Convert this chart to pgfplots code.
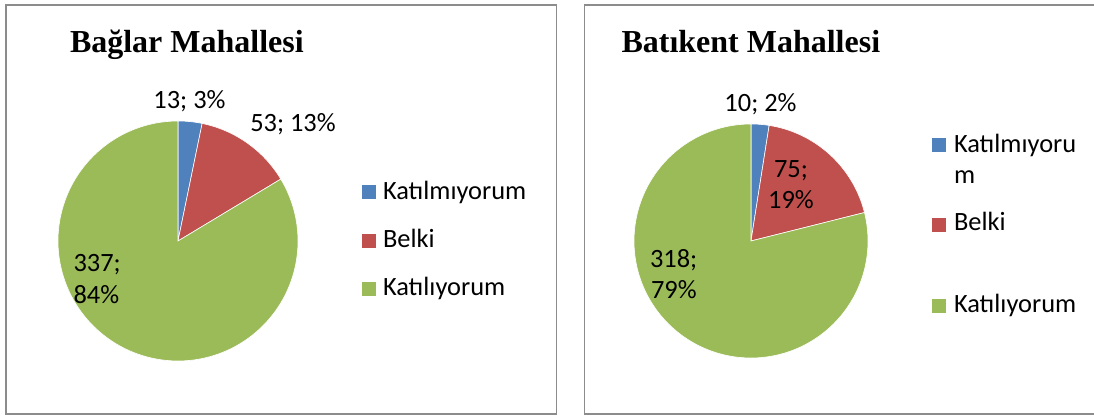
\documentclass[border=0pt]{standalone}
\usepackage{pgfplots}
\usepackage{pgfplotstable}
\pgfplotsset{compat=1.18}
\usepackage{fontspec}
\setmainfont{Carlito}
\newfontfamily\titlefont{Liberation Serif}
\definecolor{cblue}{HTML}{4F81BD}
\definecolor{cred}{HTML}{C0504D}
\definecolor{cgreen}{HTML}{9BBB59}
\definecolor{cborder}{HTML}{8C8C8C}

\pgfplotstableread{
cat count
Katilmiyorum 13
Belki 53
Katiliyorum 337
}\baglar
\pgfplotstableread{
cat count
Katilmiyorum 10
Belki 75
Katiliyorum 318
}\batikent

% compute slice boundary angles (start at 90 deg, clockwise)
\newcommand\pieangles[1]{%
  \pgfplotstablegetelem{0}{count}\of#1\let\va\pgfplotsretval
  \pgfplotstablegetelem{1}{count}\of#1\let\vb\pgfplotsretval
  \pgfplotstablegetelem{2}{count}\of#1\let\vc\pgfplotsretval
  \pgfmathsetmacro\tot{\va+\vb+\vc}%
  \pgfmathsetmacro\angA{90-(\va/\tot)*360}%
  \pgfmathsetmacro\angB{\angA-(\vb/\tot)*360}%
  \pgfmathsetmacro\angC{\angB-(\vc/\tot)*360}%
}

\newcommand\pieslices{%
  \addplot[fill=cblue, draw=white, line width=0.3pt, domain=\angA:90, samples=20, variable=\t]
    ({cos(\t)},{sin(\t)}) -- (0,0) -- cycle;
  \addplot[fill=cred, draw=white, line width=0.3pt, domain=\angB:\angA, samples=40, variable=\t]
    ({cos(\t)},{sin(\t)}) -- (0,0) -- cycle;
  \addplot[fill=cgreen, draw=white, line width=0.3pt, domain=\angC:\angB, samples=150, variable=\t]
    ({cos(\t)},{sin(\t)}) -- (0,0) -- cycle;
}

\pgfplotsset{pieaxis/.style={anchor=center, scale only axis, hide axis, clip=false,
  xmin=-1, xmax=1, ymin=-1, ymax=1}}

\begin{document}
\begin{tikzpicture}[x=0.5pt, y=0.5pt, every node/.style={inner sep=0pt, outer sep=0pt}]
\useasboundingbox (0,0) rectangle (1094,416);
% chart borders
\draw[cborder, line width=0.75pt] (6,416-5) rectangle (556.5,416-414);
\draw[cborder, line width=0.75pt] (1100,416-5) -- (584.5,416-5) -- (584.5,416-414) -- (1100,416-414);

% ---- left pie
\pieangles{\baglar}
\begin{axis}[pieaxis, at={(89pt,87.5pt)}, width=120pt, height=120pt]
\pieslices
\end{axis}
\node[anchor=base west, font=\titlefont\bfseries\fontsize{16}{19}\selectfont] at (70,416-53) {Bağlar Mahallesi};
\begin{scope}[every node/.append style={font=\fontsize{13.2}{15}\selectfont}]
\node[anchor=base] at (189.5,416-109) {13; 3\%};
\node[anchor=base] at (293,416-132) {53; 13\%};
\node[anchor=base west] at (73.5,416-272) {337;};
\node[anchor=base west] at (73.5,416-304) {84\%};
\fill[cblue]  (362,416-185) rectangle (376,416-199);
\fill[cred]   (362,416-234) rectangle (376,416-248);
\fill[cgreen] (362,416-282) rectangle (376,416-296);
\node[anchor=base west] at (383,416-200) {Katılmıyorum};
\node[anchor=base west] at (383,416-248) {Belki};
\node[anchor=base west] at (383,416-296) {Katılıyorum};
\end{scope}

% ---- right pie
\pieangles{\batikent}
\begin{axis}[pieaxis, at={(375.5pt,87.5pt)}, width=117pt, height=117pt]
\pieslices
\end{axis}
\node[anchor=base west, font=\titlefont\bfseries\fontsize{16}{19}\selectfont] at (621.5,416-53) {Batıkent Mahallesi};
\begin{scope}[every node/.append style={font=\fontsize{13.2}{15}\selectfont}]
\node[anchor=base] at (760.5,416-112) {10; 2\%};
\node[anchor=base] at (791,416-178) {75;};
\node[anchor=base] at (791,416-209) {19\%};
\node[anchor=base west] at (650,416-268) {318;};
\node[anchor=base west] at (651,416-299) {79\%};
\fill[cblue]  (932,416-138) rectangle (946,416-152);
\fill[cred]   (932,416-218) rectangle (946,416-232);
\fill[cgreen] (932,416-299) rectangle (946,416-313);
\node[anchor=base west] at (954,416-153) {Katılmıyoru};
\node[anchor=base west] at (954,416-184) {m};
\node[anchor=base west] at (954,416-231) {Belki};
\node[anchor=base west] at (954,416-313) {Katılıyorum};
\end{scope}
\end{tikzpicture}
\end{document}
